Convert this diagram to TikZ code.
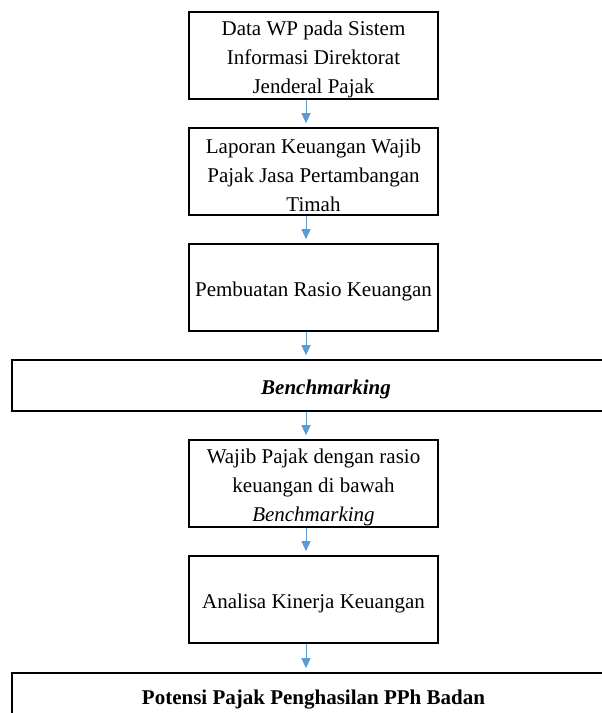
\documentclass[tikz,border=0pt]{standalone}
\usepackage{fontspec}
\setmainfont{Liberation Serif}
\usepackage{tikz}
\usetikzlibrary{arrows.meta, calc}
\definecolor{arrowblue}{RGB}{91,155,213}
\newcommand{\lowstrut}{\rule{0pt}{23pt}}

\begin{document}
\begin{tikzpicture} [x=1pt, y=-1pt,
        box/.style={draw, line width=1.6pt, inner sep=0pt, align=center,
            font=\fontsize{21}{29}\selectfont},
        smallbox/.style={box, minimum width=249, minimum height=87},
        widebox/.style={box, minimum width=628},
        flow/.style={arrowblue, line width=1pt, shorten >=4pt,
            -{Triangle[width=9pt, length=10pt]}}]
    \useasboundingbox (0,0) rectangle (602,713);

        % steps (\lowstrut pushes the text a little down)
        \node[smallbox] (data) at (313.5,55.5) {\lowstrut Data WP pada Sistem\\Informasi Direktorat\\Jenderal Pajak};
        \node[smallbox] (laporan) at (313.5,171.5) {\lowstrut Laporan Keuangan Wajib\\Pajak Jasa Pertambangan\\Timah};
        \node[smallbox] (rasio) at (313.5,287.5) {\lowstrut Pembuatan Rasio Keuangan};
        \node[widebox, minimum height=51] (bench) at (326,385.5) {\lowstrut\textbf{\textit{Benchmarking}}};
        \node[smallbox] (wajib) at (313.5,483.5) {\lowstrut Wajib Pajak dengan rasio\\keuangan di bawah\\\textit{Benchmarking}};
        \node[smallbox] (kinerja) at (313.5,599.5) {\lowstrut Analisa Kinerja Keuangan};
        \node[widebox, minimum height=62] (potensi) at (326,704) {};
        \node[font=\fontsize{21}{29}\selectfont\bfseries, anchor=base] (potensitext) at (313.5,704) {Potensi Pajak Penghasilan PPh Badan};

        % arrows
        \coordinate (ax) at (306,0);
        \draw[flow] (data.south -| ax) -- (laporan.north -| ax);
        \draw[flow] (laporan.south -| ax) -- (rasio.north -| ax);
        \draw[flow] (rasio.south -| ax) -- (bench.north -| ax);
        \draw[flow] (bench.south -| ax) -- (wajib.north -| ax);
        \draw[flow] (wajib.south -| ax) -- (kinerja.north -| ax);
        \draw[flow] (kinerja.south -| ax) -- (potensi.north -| ax);
\end{tikzpicture}
\end{document}
